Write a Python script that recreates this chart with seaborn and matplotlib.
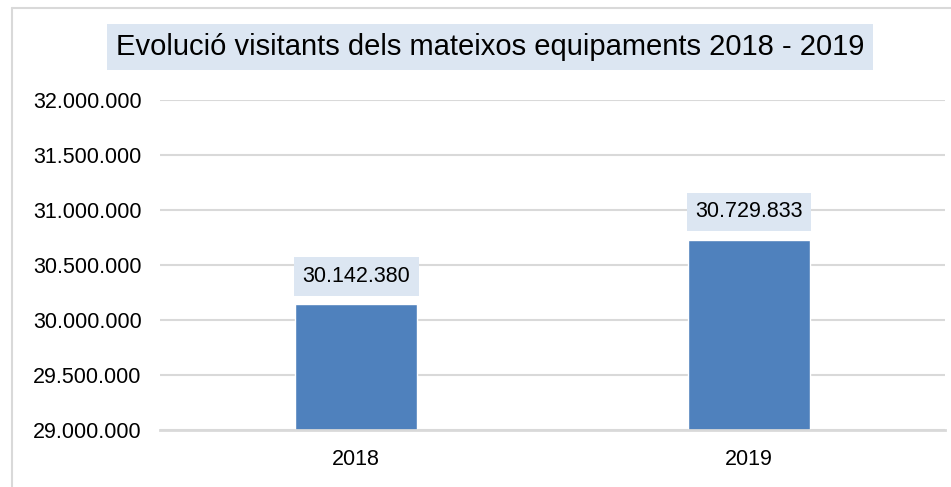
import matplotlib
matplotlib.use("Agg")
import matplotlib.pyplot as plt
import matplotlib.ticker as mticker
from matplotlib.lines import Line2D
import seaborn as sns
import pandas as pd

years = ["2018", "2019"]
visitors = [30142380, 30729833]
title = "Evolució visitants dels mateixos equipaments 2018 - 2019"


def dots(v, pos=None):
    return f"{int(round(v)):,}".replace(",", ".")


sns.set_style("white")
plt.rcParams["font.family"] = ["Liberation Sans", "DejaVu Sans"]
plt.rcParams["text.color"] = "black"

df = pd.DataFrame({"year": years, "visitors": visitors})

fig = plt.figure(figsize=(9.51, 4.87), dpi=100)
ax = fig.add_axes([0.168, 0.117, 0.826, 0.678])

sns.barplot(data=df, x="year", y="visitors", color="#4F81BD", width=0.31,
            saturation=1, ax=ax, zorder=3)

ax.set_ylim(29000000, 32000000)
ax.yaxis.set_major_locator(mticker.MultipleLocator(500000))
ax.yaxis.set_major_formatter(mticker.FuncFormatter(dots))
ax.grid(axis="y", color="#D9D9D9", linewidth=1.5, zorder=0)
for s in ["left", "right", "top"]:
    ax.spines[s].set_visible(False)
ax.spines["bottom"].set_color("#D9D9D9")
ax.spines["bottom"].set_linewidth(2)
ax.spines["bottom"].set_zorder(4)
ax.tick_params(axis="both", length=0, labelsize=15.5, colors="black")
ax.tick_params(axis="y", pad=13)
ax.tick_params(axis="x", pad=14)
ax.set_xlabel("")
ax.set_ylabel("")

for i, v in enumerate(visitors):
    ax.annotate(dots(v), xy=(i, v), xytext=(0, 20), textcoords="offset points",
                ha="center", va="center", fontsize=15.5, color="black",
                bbox=dict(boxstyle="square,pad=0.4", fc="#DCE6F2", ec="none"))

fig.text(0.515, 0.903, title, ha="center", va="center", fontsize=21, color="black",
         bbox=dict(boxstyle="square,pad=0.3", fc="#DCE6F2", ec="none"))

# chart border (left and top edges visible)
fig.add_artist(Line2D([0.0126, 0.0126], [0, 0.984], transform=fig.transFigure,
                      color="#D9D9D9", linewidth=1.5))
fig.add_artist(Line2D([0.0126, 1], [0.984, 0.984], transform=fig.transFigure,
                      color="#D9D9D9", linewidth=1.5))

fig.savefig("out.png", dpi=100)
